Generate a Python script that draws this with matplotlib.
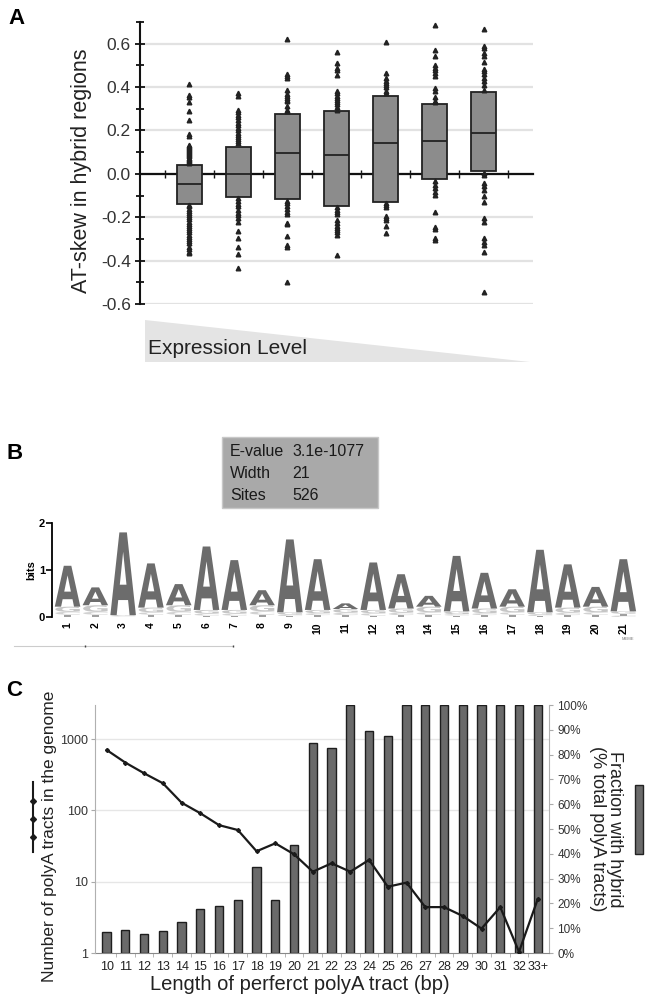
import numpy as np
import matplotlib
matplotlib.use('Agg')
import matplotlib.pyplot as plt
from matplotlib.textpath import TextPath
from matplotlib.patches import PathPatch, Rectangle, Polygon
from matplotlib.font_manager import FontProperties
from matplotlib.transforms import Affine2D, blended_transform_factory
from matplotlib.lines import Line2D

plt.rcParams['font.family'] = ['Liberation Sans', 'DejaVu Sans']

# ---------------- Panel A data ----------------
box_pos = [1, 2, 3, 4, 5, 6, 7]
box_q1 = [-0.137, -0.106, -0.118, -0.146, -0.129, -0.026, 0.012]
box_med = [-0.049, 0.0, 0.098, 0.086, 0.143, 0.151, 0.189]
box_q3 = [0.042, 0.126, 0.274, 0.288, 0.357, 0.322, 0.377]
fliers_1 = [0.415, 0.365, 0.354, 0.329, 0.291, 0.249, 0.185, 0.175, 0.135, 0.13, 0.125, 0.12,
            0.115, 0.11, 0.105, 0.10, 0.095, 0.09, 0.085, 0.08, 0.075, 0.07, 0.065, 0.06, 0.055,
            0.05, -0.145, -0.15, -0.16, -0.17, -0.18, -0.19, -0.20, -0.21, -0.22, -0.23, -0.24,
            -0.25, -0.26, -0.27, -0.28, -0.29, -0.30, -0.31, -0.32, -0.335, -0.345, -0.36, -0.365]
fliers_2 = [0.372, 0.36, 0.295, 0.283, 0.27, 0.26, 0.25, 0.234, 0.226, 0.21, 0.2, 0.19, 0.18,
            0.17, 0.16, 0.15, 0.14, -0.112, -0.125, -0.14, -0.15, -0.165, -0.18, -0.19, -0.205,
            -0.22, -0.263, -0.298, -0.338, -0.371, -0.432]
fliers_3 = [0.622, 0.462, 0.449, 0.44, 0.385, 0.369, 0.36, 0.35, 0.34, 0.334, 0.311, 0.295,
            0.288, -0.125, -0.136, -0.146, -0.162, -0.174, -0.185, -0.228, -0.233, -0.286,
            -0.328, -0.338, -0.497]
fliers_4 = [0.562, 0.511, 0.488, 0.48, 0.457, 0.38, 0.372, 0.36, 0.35, 0.34, 0.33, 0.32, 0.31,
            0.295, -0.154, -0.166, -0.174, -0.185, -0.212, -0.228, -0.24, -0.25, -0.258, -0.266,
            -0.282, -0.374]
fliers_5 = [0.609, 0.465, 0.44, 0.43, 0.42, 0.41, 0.40, 0.38, 0.372, -0.135, -0.143, -0.151,
            -0.194, -0.205, -0.212, -0.24, -0.271]
fliers_6 = [0.685, 0.572, 0.542, 0.5, 0.488, 0.48, 0.465, 0.449, 0.395, 0.38, 0.354, 0.338,
            0.329, -0.035, -0.051, -0.066, -0.082, -0.097, -0.174, -0.243, -0.255, -0.298, -0.305]
fliers_7 = [0.669, 0.591, 0.58, 0.557, 0.545, 0.514, 0.483, 0.472, 0.462, 0.442, 0.426, 0.411,
            0.388, 0.003, -0.005, -0.043, -0.058, -0.074, -0.1, -0.132, -0.205, -0.22, -0.297,
            -0.312, -0.328, -0.362, -0.546]
box_fliers = [fliers_1, fliers_2, fliers_3, fliers_4, fliers_5, fliers_6, fliers_7]
a_yticks = [-0.6, -0.4, -0.2, 0.0, 0.2, 0.4, 0.6]
a_yticklabels = ['-0.6', '-0.4', '-0.2', '0.0', '0.2', '0.4', '0.6']

# ---------------- Panel B data ----------------
logo_pos = list(range(1, 22))
logo_A_top = [1.09, 0.63, 1.80, 1.14, 0.70, 1.50, 1.21, 0.57, 1.65, 1.23, 0.29,
              1.16, 0.91, 0.45, 1.30, 0.94, 0.59, 1.43, 1.12, 0.64, 1.23]
logo_G = [0.11, 0.14, 0.02, 0.10, 0.14, 0.08, 0.08, 0.13, 0.05, 0.07, 0.08,
          0.07, 0.09, 0.12, 0.06, 0.10, 0.12, 0.05, 0.11, 0.12, 0.05]
logo_C = [0.06, 0.06, 0.01, 0.05, 0.06, 0.04, 0.04, 0.07, 0.03, 0.04, 0.05,
          0.05, 0.05, 0.05, 0.03, 0.04, 0.05, 0.03, 0.05, 0.05, 0.03]
logo_T = [0.05, 0.05, 0.01, 0.05, 0.05, 0.03, 0.03, 0.05, 0.02, 0.04, 0.04,
          0.03, 0.04, 0.05, 0.03, 0.04, 0.05, 0.02, 0.04, 0.05, 0.04]
motif_info = [('E-value', '3.1e-1077'), ('Width', '21'), ('Sites', '526')]

# ---------------- Panel C data ----------------
tract_labels = ['10', '11', '12', '13', '14', '15', '16', '17', '18', '19', '20', '21',
                '22', '23', '24', '25', '26', '27', '28', '29', '30', '31', '32', '33+']
frac_hybrid_pct = [8.6, 9.3, 7.7, 9.0, 12.4, 17.7, 19.1, 21.2, 34.8, 21.2, 43.5, 84.8,
                   82.5, 100, 89.6, 87.6, 100, 100, 100, 100, 100, 100, 100, 100]
tract_counts = [703, 467, 331, 240, 128, 91, 62, 53, 26.7, 34.5, 24.2, 13.8,
                18.1, 13.8, 20.2, 8.5, 9.7, 4.4, 4.4, 3.3, 2.2, 4.4, 1.04, 5.7]
pct_ticks = [0, 10, 20, 30, 40, 50, 60, 70, 80, 90, 100]
log_ticks = [1, 10, 100, 1000]

# ---------------- Figure ----------------
W, H = 646, 1002
fig = plt.figure(figsize=(W / 100, H / 100), dpi=100)


def rect(l, t, r, b):
    return [l / W, 1 - b / H, (r - l) / W, (b - t) / H]


def fx(x):
    return x / W


def fy(y):
    return 1 - y / H


# ================= Panel A =================
axA = fig.add_axes(rect(140, 22, 533, 304))
stats = []
for q1, md, q3, fl in zip(box_q1, box_med, box_q3, box_fliers):
    stats.append(dict(q1=q1, med=md, q3=q3, whislo=q1, whishi=q3, fliers=fl))
axA.bxp(stats, positions=box_pos, widths=0.51, patch_artist=True, showcaps=False,
        boxprops=dict(facecolor='#8c8c8c', edgecolor='#222222', linewidth=1.3),
        medianprops=dict(color='#222222', linewidth=1.3),
        whiskerprops=dict(linewidth=0),
        flierprops=dict(marker='^', markersize=3.3, markerfacecolor='#222222',
                        markeredgecolor='#222222', linestyle='none'),
        zorder=3)
axA.set_xlim(0, 8)
axA.set_ylim(-0.6, 0.7)
for s in ['top', 'right']:
    axA.spines[s].set_visible(False)
axA.spines['left'].set_linewidth(1.5)
axA.spines['left'].set_color('#111111')
axA.spines['bottom'].set_position(('data', 0))
axA.spines['bottom'].set_linewidth(1.6)
axA.spines['bottom'].set_color('#111111')
axA.spines['bottom'].set_zorder(2.5)
axA.set_xticks([0.5, 1.5, 2.5, 3.5, 4.5, 5.5, 6.5, 7.5])
axA.tick_params(axis='x', direction='inout', length=6, width=1, labelbottom=False, color='#111111')
axA.set_yticks(a_yticks)
axA.set_yticklabels(a_yticklabels)
axA.set_yticks(np.arange(-0.5, 0.75, 0.2), minor=True)
axA.tick_params(axis='y', which='major', direction='inout', length=7, width=1.3,
                labelsize=12.5, colors='#111111', labelcolor='#333333', pad=3)
axA.tick_params(axis='y', which='minor', direction='inout', length=6, width=1.3, colors='#111111')
axA.yaxis.grid(True, color='#e2e2e2', linewidth=1.6)
axA.set_axisbelow(True)
fig.text(fx(82), fy(171), 'AT-skew in hybrid regions', rotation=90, ha='center', va='center',
         fontsize=15.5, color='#222222')
fig.text(fx(8), fy(18), 'A', fontsize=16, fontweight='bold', ha='left', va='center')

# Expression-level wedge
wedge = Polygon([(fx(145), fy(320)), (fx(145), fy(362)), (fx(530), fy(362))],
                closed=True, transform=fig.transFigure, facecolor='#e4e4e4', edgecolor='none')
fig.patches.append(wedge)
fig.text(fx(148), fy(348), 'Expression Level', fontsize=15, color='#222222', ha='left', va='center')

# ================= Panel B =================
fig.text(fx(6), fy(453), 'B', fontsize=16, fontweight='bold', ha='left', va='center')
box = Rectangle((fx(222), fy(508)), fx(378) - fx(222), fy(437) - fy(508), transform=fig.transFigure,
                facecolor='#a9a9a9', edgecolor='#c8c8c8', linewidth=1)
fig.patches.append(box)
for i, (k, v) in enumerate(motif_info):
    yy = 452 + 21.5 * i
    fig.text(fx(230), fy(yy), k, fontsize=11.5, color='#1a1a1a', ha='left', va='center')
    fig.text(fx(292), fy(yy), v, fontsize=11.5, color='#1a1a1a', ha='left', va='center')

axB = fig.add_axes(rect(52, 523, 640, 617))
axB.set_xlim(0.44, 21.6)
axB.set_ylim(0, 2)
for s in ['top', 'right', 'bottom']:
    axB.spines[s].set_visible(False)
axB.spines['left'].set_linewidth(1.3)
axB.set_yticks([0, 1, 2])
axB.set_yticklabels(['0', '1', '2'], fontweight='bold')
axB.tick_params(axis='y', length=4, width=1.2, labelsize=8, pad=1)
axB.set_xticks(logo_pos)
axB.set_xticklabels([str(p) for p in logo_pos], rotation=90, fontweight='bold', fontsize=7.5)
axB.tick_params(axis='x', length=0, pad=4)
axB.set_ylabel('bits', fontsize=8, fontweight='bold', labelpad=2)

fp = FontProperties(family='DejaVu Sans', weight='bold')
glyphs = {}
for ch in 'ACGT':
    glyphs[ch] = TextPath((0, 0), ch, size=1, prop=fp)


def draw_letter(ax, ch, xc, y0, h, w, color):
    if h <= 0:
        return
    tp = glyphs[ch]
    bb = tp.get_extents()
    tr = Affine2D().translate(-bb.x0, -bb.y0).scale(w / bb.width, h / bb.height).translate(xc - w / 2, y0)
    ax.add_patch(PathPatch(tr.transform_path(tp), facecolor=color, edgecolor='none', lw=0))


letter_colors = {'A': '#6c6c6c', 'G': '#c6c6c6', 'C': '#d2d2d2', 'T': '#a0a0a0'}
for i, p in enumerate(logo_pos):
    parts = [('T', logo_T[i]), ('C', logo_C[i]), ('G', logo_G[i])]
    parts.sort(key=lambda z: z[1])
    y0 = 0.0
    for ch, h in parts:
        draw_letter(axB, ch, p, y0, h, 0.88, letter_colors[ch])
        y0 += h
    draw_letter(axB, 'A', p, y0, logo_A_top[i] - y0, 0.92, letter_colors['A'])

fig.text(fx(628), fy(639), 'MEME', fontsize=3, color='#777777', ha='center', va='center')
fig.lines.append(Line2D([fx(14), fx(233)], [fy(646), fy(646)], transform=fig.transFigure,
                        color='#cccccc', lw=0.8))
fig.lines.append(Line2D([fx(85), fx(233)], [fy(646), fy(646)], transform=fig.transFigure,
                        color='#444444', lw=0, marker='|', markersize=2))

# ================= Panel C =================
fig.text(fx(6), fy(690), 'C', fontsize=16, fontweight='bold', ha='left', va='center')
axC = fig.add_axes(rect(95, 705, 549, 953))
axL = axC.twinx()

xc = np.arange(len(tract_labels))
axC.bar(xc, frac_hybrid_pct, width=0.44, color='#6a6a6a', edgecolor='#1e1e1e', linewidth=1.0, zorder=2)
axC.set_ylim(0, 100)
axC.set_xlim(-0.62, 23.6)
axC.set_yticks(pct_ticks)
axC.set_yticklabels([f'{v}%' for v in pct_ticks])
axC.yaxis.set_ticks_position('right')
axC.yaxis.set_label_position('right')
axC.tick_params(axis='y', left=False, labelleft=False, right=True, labelright=True,
                length=3, color='#aaaaaa', labelsize=8.5, labelcolor='#333333', pad=3)
axC.set_xticks(xc)
axC.set_xticklabels(tract_labels)
axC.set_xticks(xc[:-1] + 0.5, minor=True)
axC.tick_params(axis='x', which='major', length=0, labelsize=9, labelcolor='#222222', pad=6)
axC.tick_params(axis='x', which='minor', length=3, color='#aaaaaa')
for s in ['top', 'left']:
    axC.spines[s].set_visible(False)
axC.spines['right'].set_color('#b0b0b0')
axC.spines['bottom'].set_color('#888888')

axL.set_yscale('log')
axL.set_ylim(1, 3000)
axL.set_yticks(log_ticks)
axL.set_yticklabels([str(v) for v in log_ticks])
axL.yaxis.set_minor_locator(matplotlib.ticker.NullLocator())
axL.tick_params(axis='y', which='both', left=True, labelleft=True, right=False, labelright=False,
                length=3, color='#aaaaaa', labelsize=9, labelcolor='#333333', pad=2)
for s in ['top', 'right', 'bottom']:
    axL.spines[s].set_visible(False)
axL.spines['left'].set_visible(True)
axL.spines['left'].set_color('#b0b0b0')
axL.plot(xc, tract_counts, color='#1a1a1a', lw=1.6, marker='D', markersize=2, zorder=3)

gtr = blended_transform_factory(axC.transAxes, axL.transData)
for v in log_ticks[1:]:
    axC.plot([0, 1], [v, v], transform=gtr, color='#e6e6e6', lw=1.0, zorder=0)

fig.text(fx(50), fy(836), 'Number of polyA tracts in the genome', rotation=90, ha='center',
         va='center', fontsize=12.5, color='#222222')
fig.text(fx(606), fy(829), 'Fraction with hybrid\n(% total polyA tracts)', rotation=-90,
         ha='center', va='center', fontsize=13, color='#222222', linespacing=1.0)
fig.text(fx(300), fy(985), 'Length of perferct polyA tract (bp)', ha='center', va='center',
         fontsize=14.5, color='#222222')

# legend symbols
fig.patches.append(Rectangle((fx(635), fy(854)), fx(643) - fx(635), fy(785) - fy(854),
                             transform=fig.transFigure, facecolor='#6a6a6a', edgecolor='#222222', lw=1))
fig.lines.append(Line2D([fx(33), fx(33)], [fy(782), fy(852)], transform=fig.transFigure,
                        color='#1a1a1a', lw=1.5))
fig.lines.append(Line2D([fx(33)] * 3, [fy(801), fy(819), fy(837)], transform=fig.transFigure,
                        color='#1a1a1a', lw=0, marker='D', markersize=3))

fig.savefig('out.png', dpi=100)
